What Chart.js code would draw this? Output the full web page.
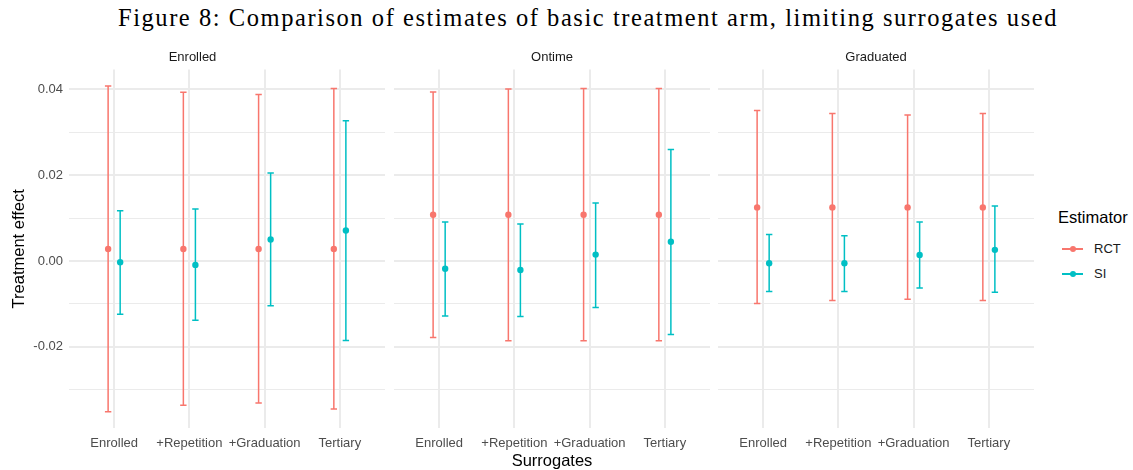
<!DOCTYPE html>
<html>
<head>
<meta charset="utf-8">
<script src="https://cdn.jsdelivr.net/npm/chart.js@4"></script>
<style>
  body { margin: 0; background: #fff; width: 1133px; height: 470px; position: relative; overflow: hidden; font-family: "Liberation Sans", Arial, sans-serif; }
  canvas { position: absolute; top: 40px; }
  #title { position: absolute; left: 588px; top: 4px; transform: translateX(-50%); white-space: nowrap; font-family: "Liberation Serif", serif; font-size: 24.5px; color: #000; }
  .legend-title { position: absolute; left: 1058px; top: 208px; font-size: 16.5px; color: #000; }
  .key { position: absolute; left: 1062px; width: 21px; height: 1.5px; }
  .dot { position: absolute; left: 7.5px; top: -2.25px; width: 6px; height: 6px; border-radius: 50%; }
  .key-label { position: absolute; left: 1094px; font-size: 13px; color: #1a1a1a; }
</style>
</head>
<body>
<div id="title">Figure 8: Comparison of estimates of basic treatment arm, limiting surrogates used</div>
<canvas id="panel0" width="385" height="430" style="left:0px"></canvas>
<canvas id="panel1" width="316" height="430" style="left:394px"></canvas>
<canvas id="panel2" width="316" height="430" style="left:718px"></canvas>

<div class="legend-title">Estimator</div>
<div class="key" style="top:248px;background:#F8766D"><div class="dot" style="background:#F8766D"></div></div>
<div class="key-label" style="top:241px">RCT</div>
<div class="key" style="top:273px;background:#00BFC4"><div class="dot" style="background:#00BFC4"></div></div>
<div class="key-label" style="top:266px">SI</div>

<script>
const surrogates = ["Enrolled", "+Repetition", "+Graduation", "Tertiary"];
const outcomes = ["Enrolled", "Ontime", "Graduated"];

// one row per outcome panel, one value per surrogate set
const rctEstimate = [
  [0.0028, 0.0028, 0.0028, 0.0028],
  [0.0108, 0.0108, 0.0108, 0.0108],
  [0.0125, 0.0125, 0.0125, 0.0125]
];
const rctLower = [
  [-0.0351, -0.0336, -0.0331, -0.0345],
  [-0.0178, -0.0186, -0.0186, -0.0186],
  [-0.0099, -0.0092, -0.0089, -0.0092]
];
const rctUpper = [
  [0.0408, 0.0393, 0.0388, 0.0402],
  [0.0394, 0.0401, 0.0402, 0.0402],
  [0.0351, 0.0344, 0.0340, 0.0344]
];
const siEstimate = [
  [-0.0003, -0.0009, 0.0050, 0.0071],
  [-0.0018, -0.0021, 0.0015, 0.0045],
  [-0.0005, -0.0005, 0.0014, 0.0026]
];
const siLower = [
  [-0.0124, -0.0138, -0.0104, -0.0185],
  [-0.0128, -0.0129, -0.0108, -0.0171],
  [-0.0071, -0.0071, -0.0063, -0.0073]
];
const siUpper = [
  [0.0117, 0.0121, 0.0205, 0.0327],
  [0.0091, 0.0086, 0.0135, 0.0260],
  [0.0062, 0.0059, 0.0091, 0.0128]
];
const yTicks = [-0.03, -0.02, -0.01, 0, 0.01, 0.02, 0.03, 0.04];

const RCT_COLOR = "#F8766D";
const SI_COLOR = "#00BFC4";
const GRID = "#EBEBEB";
const DODGE = 0.08;

// stretch the serif title to the width it has in the figure
(function fitTitle() {
  const el = document.querySelector("#title");
  const ctx = document.createElement("canvas").getContext("2d");
  ctx.font = '24.5px "Liberation Serif"';
  const w = ctx.measureText(el.textContent).width;
  el.style.letterSpacing = ((940 - w) / el.textContent.length) + "px";
})();

Chart.defaults.font.family = '"Liberation Sans", Arial, sans-serif';

const errorBars = {
  id: "errorBars",
  beforeDatasetsDraw(chart) {
    const { ctx, scales: { x, y } } = chart;
    ctx.save();
    chart.data.datasets.forEach(ds => {
      ctx.strokeStyle = ds.backgroundColor;
      ctx.lineWidth = 1.5;
      ds.data.forEach((p, i) => {
        const px = x.getPixelForValue(p.x);
        const lo = y.getPixelForValue(ds.lower[i]);
        const hi = y.getPixelForValue(ds.upper[i]);
        ctx.beginPath();
        ctx.moveTo(px, lo); ctx.lineTo(px, hi);
        ctx.moveTo(px - 3.2, lo); ctx.lineTo(px + 3.2, lo);
        ctx.moveTo(px - 3.2, hi); ctx.lineTo(px + 3.2, hi);
        ctx.stroke();
      });
    });
    ctx.restore();
  }
};

function makePanel(p) {
  const first = p === 0;
  const middle = p === 1;
  const points = (est, shift) => est.map((v, i) => ({ x: i + 1 + shift, y: v }));

  return new Chart(document.querySelector("#panel" + p), {
    type: "scatter",
    data: {
      datasets: [
        { label: "RCT", data: points(rctEstimate[p], -DODGE), lower: rctLower[p], upper: rctUpper[p],
          backgroundColor: RCT_COLOR, pointRadius: 3.2, pointBorderWidth: 0 },
        { label: "SI", data: points(siEstimate[p], DODGE), lower: siLower[p], upper: siUpper[p],
          backgroundColor: SI_COLOR, pointRadius: 3.2, pointBorderWidth: 0 }
      ]
    },
    options: {
      responsive: false,
      animation: false,
      events: [],
      layout: { padding: 0, autoPadding: false },
      plugins: {
        legend: { display: false },
        tooltip: { enabled: false },
        title: {
          display: true,
          text: outcomes[p],
          color: "#1A1A1A",
          font: { size: 13, weight: "normal" },
          padding: { top: 10, bottom: 4 }
        }
      },
      scales: {
        x: {
          type: "linear",
          min: 0.4,
          max: 4.6,
          afterBuildTicks: scale => { scale.ticks = surrogates.map((_, i) => ({ value: i + 1 })); },
          afterFit: scale => { scale.height = 42; },
          ticks: {
            callback: value => surrogates[value - 1],
            color: "#4D4D4D",
            font: { size: 13 },
            padding: 8,
            maxRotation: 0,
            autoSkip: false
          },
          grid: { color: GRID, lineWidth: 2, drawTicks: false },
          border: { display: false },
          title: {
            display: middle,
            text: "Surrogates",
            color: "#000",
            font: { size: 16.5 },
            padding: { top: 0, bottom: -1.5 }
          }
        },
        y: {
          min: -0.0389,
          max: 0.0446,
          afterBuildTicks: scale => { scale.ticks = yTicks.map(v => ({ value: v })); },
          afterFit: scale => { scale.width = first ? 69 : 0; },
          ticks: {
            display: first,
            callback: value => Math.round(value * 100) % 2 === 0 ? value.toFixed(2) : "",
            color: "#4D4D4D",
            font: { size: 13 },
            padding: 6,
            autoSkip: false
          },
          grid: {
            color: GRID,
            drawTicks: false,
            lineWidth: ctx => Math.round(ctx.tick.value * 100) % 2 === 0 ? 2 : 1
          },
          border: { display: false },
          title: {
            display: first,
            text: "Treatment effect",
            color: "#000",
            font: { size: 16.5 },
            padding: { top: 10, bottom: 0 }
          }
        }
      }
    },
    plugins: [errorBars]
  });
}

outcomes.forEach((_, p) => makePanel(p));
</script>
</body>
</html>
